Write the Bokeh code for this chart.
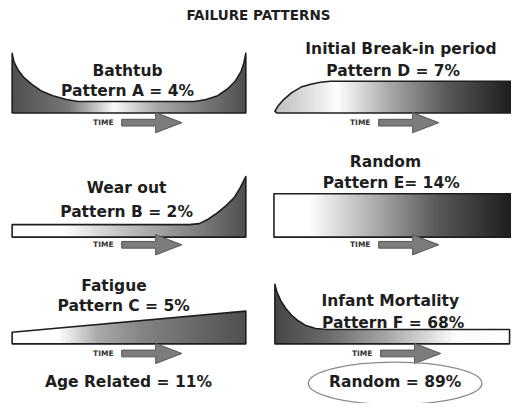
import numpy as np
from bokeh.plotting import figure
from bokeh.models import Range1d
from bokeh.core.properties import value
from bokeh.embed import file_html
from bokeh.resources import INLINE

# ---- data ----
title = "FAILURE PATTERNS"
pattern_letters = ["A", "B", "C", "D", "E", "F"]
pattern_names = ["Bathtub", "Wear out", "Fatigue", "Initial Break-in period", "Random", "Infant Mortality"]
pattern_shares = [4, 2, 5, 7, 14, 68]
age_related_share = 11
random_share = 89

# curve profiles (image pixel coords, y downward)
bathtub_x = [12, 14, 18, 24, 32, 42, 54, 68, 80, 200, 212, 224, 234, 242, 248, 251, 253]
bathtub_y = [55, 64, 72, 80, 87, 94, 99, 103, 105, 105, 103, 99, 92, 84, 74, 65, 55]
wear_x = [12, 195, 205, 213, 222, 233, 241, 247, 250, 253]
wear_y = [233, 233, 232, 228, 222, 213, 205, 195, 189, 183]
fatigue_x = [12, 253]
fatigue_y = [345, 323]
breakin_x = [283, 286, 292, 300, 310, 320, 330, 340, 530]
breakin_y = [115, 110, 103, 96, 90, 87, 85, 84, 84]
random_x = [282, 530]
random_y = [201, 201]
infant_x = [283, 285, 289, 294, 300, 307, 315, 325, 337, 525]
infant_y = [295, 303, 312, 320, 327, 333, 338, 341, 342, 342]

W, H = 511, 403
p = figure(width=W, height=H, x_range=Range1d(0, 527), y_range=Range1d(419, 0),
           output_backend="svg", toolbar_location=None, min_border=0)
p.axis.visible = False
p.grid.visible = False
p.outline_line_color = None
p.background_fill_color = "white"
p.border_fill_color = "white"

FONT = value("DejaVu Sans")
OUT = "#1e1e1e"


def gradient(x0, x1, top, bottom, stops_x, stops_v):
    n = int((x1 - x0) * 2)
    xs = np.linspace(x0, x1, n)
    v = np.clip(np.interp(xs, stops_x, stops_v), 0, 255).astype(np.uint8)
    img = np.empty((2, n), dtype=np.uint32)
    view = img.view(dtype=np.uint8).reshape((2, n, 4))
    view[..., 0] = v
    view[..., 1] = v
    view[..., 2] = v
    view[..., 3] = 255
    p.image_rgba(image=[img], x=x0, y=top, dw=x1 - x0, dh=bottom - top)


def mask(xs, ys):
    p.patch(xs, ys, fill_color="white", line_color=None)


def outline(xs, ys):
    p.patch(xs, ys, fill_color=None, line_color=OUT, line_width=1.6, line_join="round")


def arrow(cx_text, cy):
    p.text(x=[cx_text], y=[cy], text=["TIME"], text_font=FONT, text_font_style="bold",
           text_font_size="7.5px", text_align="center", text_baseline="middle", text_color="#333333")
    s0 = cx_text + 19
    hb = cx_text + 54
    tip = cx_text + 81
    ax = [s0, hb, hb, tip, hb, hb, s0]
    ay = [cy - 3.5, cy - 3.5, cy - 10.5, cy, cy + 10.5, cy + 3.5, cy + 3.5]
    p.patch(ax, ay, fill_color="#7c7c7c", line_color="#555555", line_width=1)


def label(x, y, txt, size="15.5px"):
    p.text(x=[x], y=[y], text=[txt], text_font=FONT, text_font_style="bold",
           text_font_size=size, text_align="center", text_baseline="middle", text_color="#1e1e1e")


# ---- A: bathtub ----
gradient(12, 253, 55, 117, [12, 70, 117, 160, 253], [80, 120, 250, 170, 80])
mask(bathtub_x + [256, 9], bathtub_y + [52, 52])
outline(bathtub_x + [253, 12], bathtub_y + [117, 117])

# ---- D: initial break-in ----
gradient(283, 530, 84, 117, [283, 320, 347, 400, 460, 527], [190, 225, 255, 170, 90, 30])
mask(breakin_x[:8] + [345, 279, 279], breakin_y[:8] + [81, 81, 116])
outline(breakin_x + [530, 285], breakin_y + [117, 117])

# ---- B: wear out ----
gradient(12, 253, 183, 246, [12, 65, 120, 200, 253], [255, 255, 200, 130, 80])
mask(wear_x + [256, 9, 9], wear_y + [180, 180, 233])
outline(wear_x + [253, 12], wear_y + [246, 246])

# ---- E: random ----
gradient(282, 530, 201, 246, [282, 318, 380, 450, 527], [255, 255, 180, 90, 30])
outline(random_x + [530, 282], random_y + [246, 246])

# ---- C: fatigue ----
gradient(12, 253, 323, 357, [12, 60, 100, 150, 253], [255, 255, 170, 130, 80])
mask(fatigue_x + [256, 9, 9], fatigue_y + [320, 320, 345])
outline(fatigue_x + [253, 12], fatigue_y + [357, 357])

# ---- F: infant mortality ----
gradient(283, 525, 295, 357, [283, 340, 400, 467, 525], [70, 110, 170, 250, 255])
mask(infant_x + [528, 528, 286], infant_y + [339, 292, 292])
outline(infant_x + [525, 283], infant_y + [357, 357])

# ---- arrows ----
for cx, cy in [(106, 127), (371, 127), (106, 254), (371, 254), (106, 367), (373, 367)]:
    arrow(cx, cy)

# ---- texts ----
label(266, 15, title, size="13.5px")
label(131, 73, pattern_names[0])
label(131, 94, f"Pattern {pattern_letters[0]} = {pattern_shares[0]}%")
label(413, 50, pattern_names[3])
label(405, 73, f"Pattern {pattern_letters[3]} = {pattern_shares[3]}%")
label(130, 195, pattern_names[1])
label(130, 220, f"Pattern {pattern_letters[1]} = {pattern_shares[1]}%")
label(397, 168, pattern_names[4])
label(403, 190, f"Pattern {pattern_letters[4]}= {pattern_shares[4]}%")
label(117, 297, pattern_names[2])
label(127, 318, f"Pattern {pattern_letters[2]} = {pattern_shares[2]}%")
label(402, 312, pattern_names[5])
label(405, 335, f"Pattern {pattern_letters[5]} = {pattern_shares[5]}%")
label(132, 397, f"Age Related = {age_related_share}%", size="15.5px")

p.ellipse(x=[407], y=[398], width=[179], height=[44], fill_color=None,
          line_color="#8a8a8a", line_width=1.3)
label(407, 397, f"Random = {random_share}%", size="15.5px")

open("out.html", "w").write(file_html(p, INLINE))
